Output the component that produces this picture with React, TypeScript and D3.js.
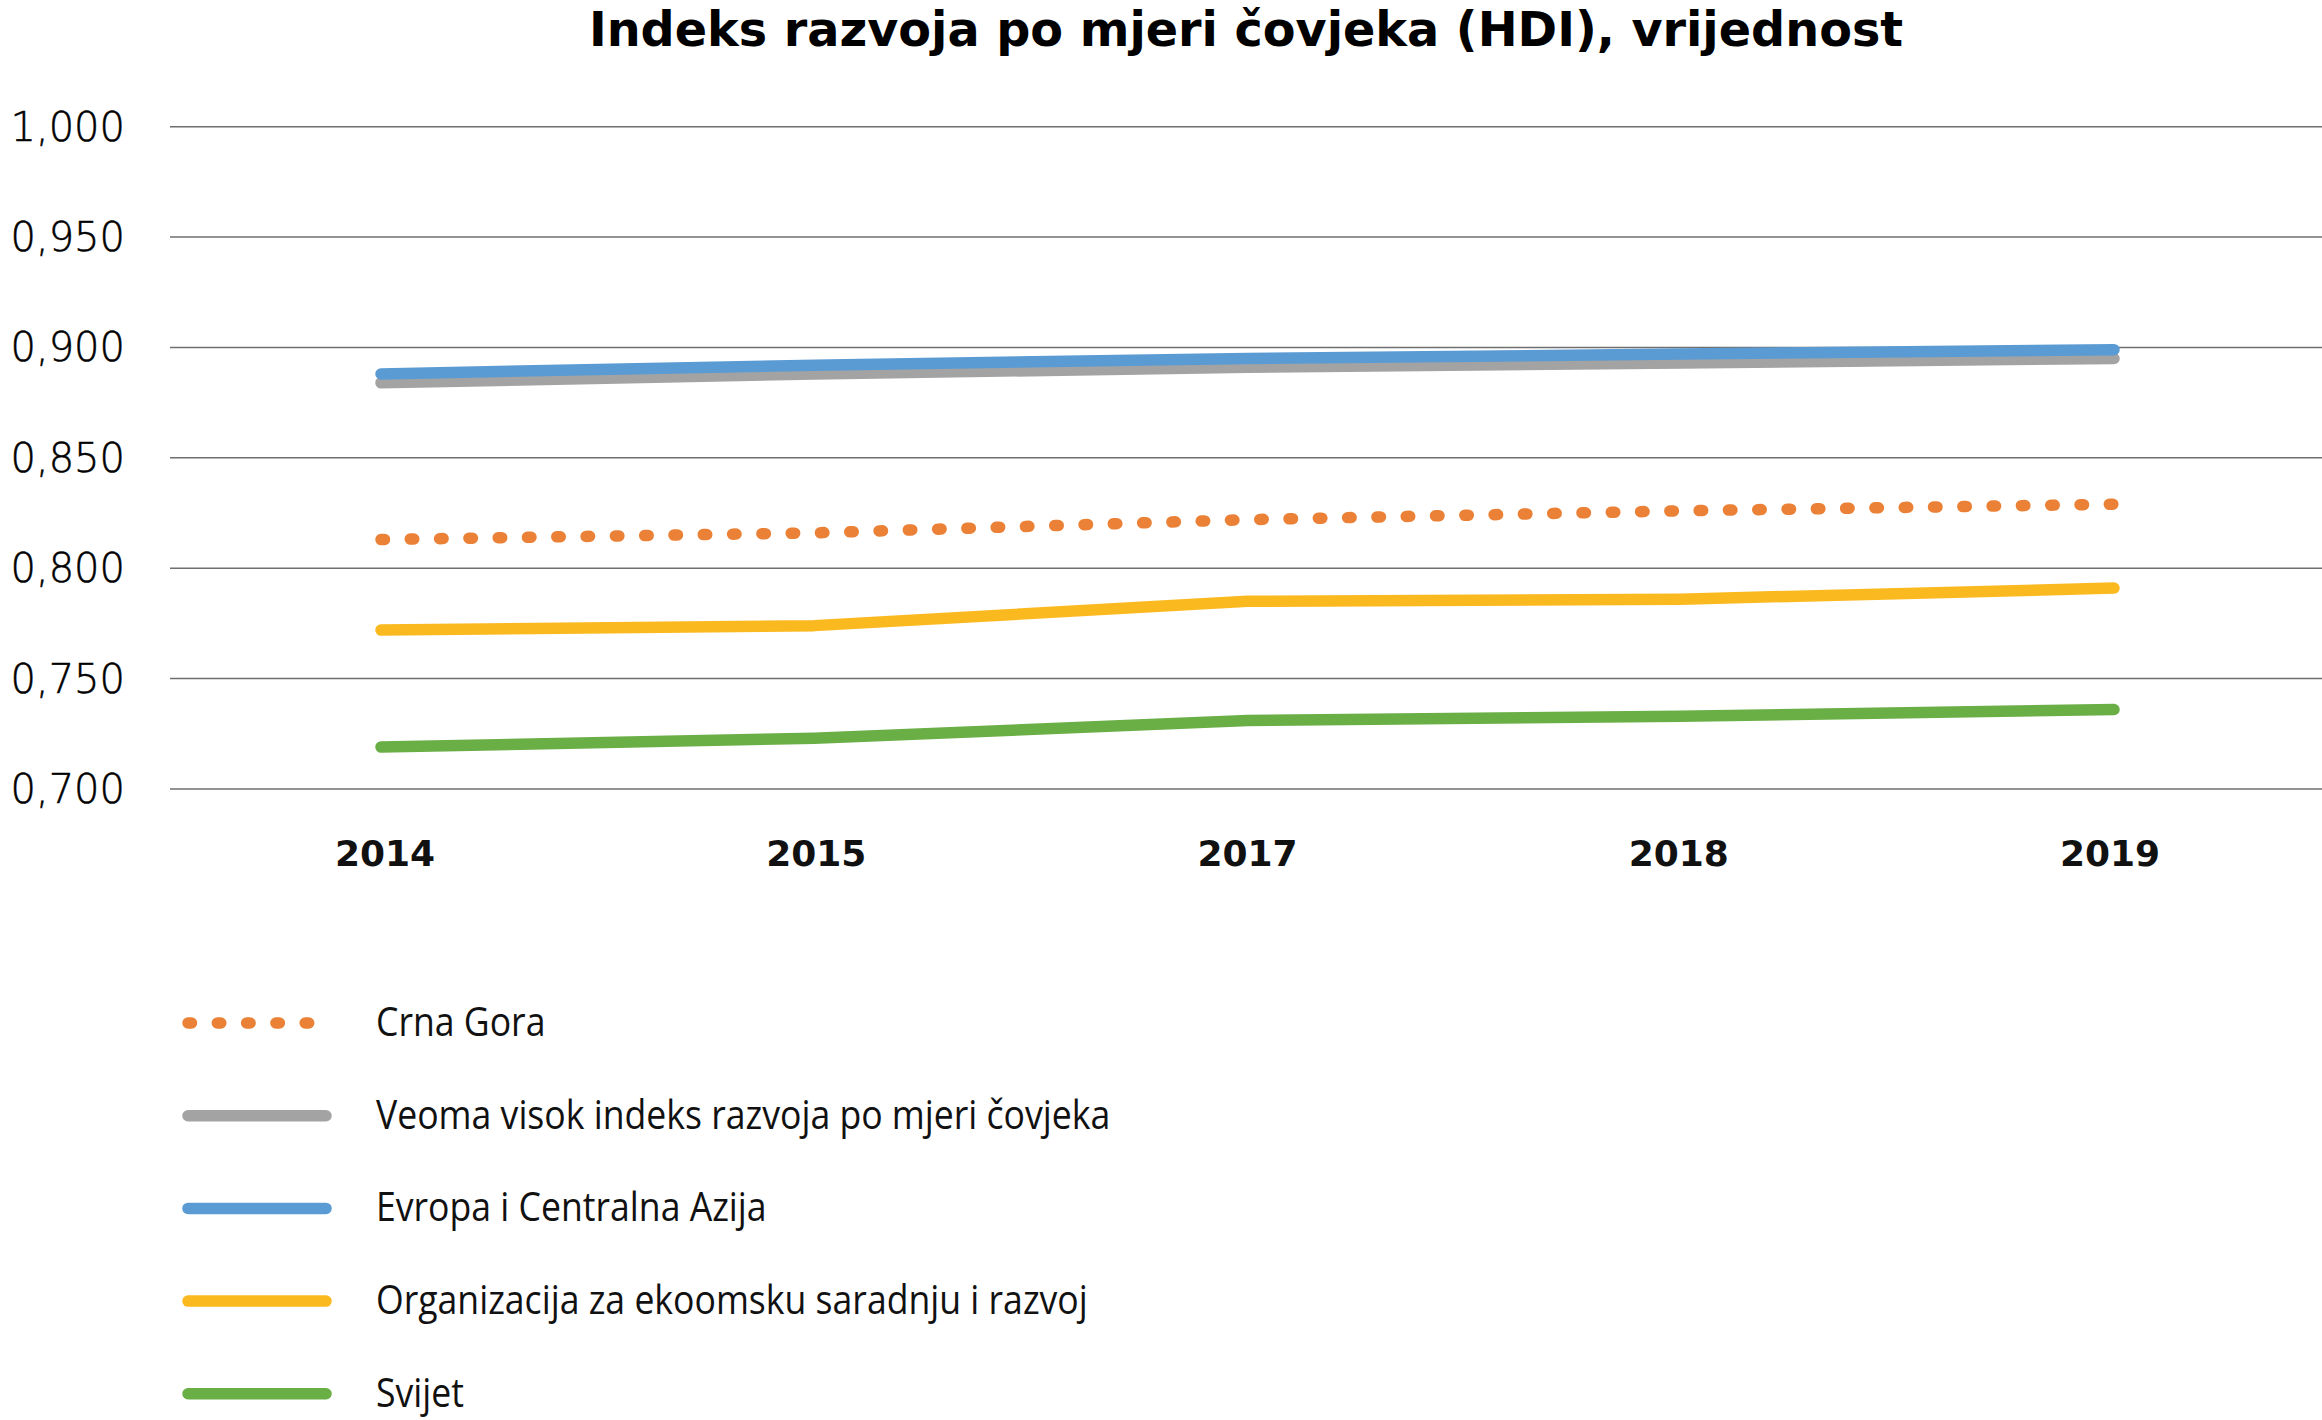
import React from "react";
import * as d3 from "d3";

const years = ["2014", "2015", "2017", "2018", "2019"];
const crnaGora = [0.813, 0.816, 0.822, 0.826, 0.829];
const veomaVisok = [0.884, 0.888, 0.891, 0.893, 0.895];
const evropa = [0.888, 0.892, 0.895, 0.897, 0.899];
const oecd = [0.772, 0.774, 0.785, 0.786, 0.791];
const svijet = [0.719, 0.723, 0.731, 0.733, 0.736];
const yTicks = [0.7, 0.75, 0.8, 0.85, 0.9, 0.95, 1.0];

const seriesNames = [
  "Crna Gora",
  "Veoma visok indeks razvoja po mjeri čovjeka",
  "Evropa i Centralna Azija",
  "Organizacija za ekoomsku saradnju i razvoj",
  "Svijet",
];
const seriesValues = [crnaGora, veomaVisok, evropa, oecd, svijet];
const seriesColors = ["#EA8136", "#A3A3A3", "#5B9BD3", "#FBB920", "#6AAE46"];
const seriesDotted = [true, false, false, false, false];

const title = "Indeks razvoja po mjeri čovjeka (HDI), vrijednost";

export default function App() {
  const W = 2322;
  const H = 1420;
  const x = d3.scalePoint<string>().domain(years).range([381, 2114]);
  const xLabel = d3.scalePoint<string>().domain(years).range([385, 2110]);
  const y = d3.scaleLinear().domain([0.7, 1.0]).range([789, 126.7]);
  const gridX0 = 170;
  const gridX1 = 2322;
  const line = d3
    .line<number>()
    .x((_, i) => x(years[i]) as number)
    .y((v) => y(v));

  const fmt = (v: number) => d3.format(".3f")(v).replace(".", ",");

  const legendX0 = 188;
  const legendX1 = 326;
  const legendTextX = 376;
  const legendBase0 = 1036;
  const legendStep = 92.7;
  const legendSqueeze = 0.89;

  return (
    <svg
      width={W}
      height={H}
      style={{ position: "absolute", left: 0, top: 0, display: "block", background: "#fff" }}
    >
      <rect x={0} y={0} width={W} height={H} fill="#fff" />
      <text
        x={(gridX0 + gridX1) / 2}
        y={46}
        textAnchor="middle"
        fontFamily="'DejaVu Sans', sans-serif"
        fontWeight={700}
        fontSize={47.7}
        fill="#000"
      >
        {title}
      </text>
      {yTicks.map((t) => (
        <g key={t}>
          <line
            x1={gridX0}
            x2={gridX1}
            y1={y(t)}
            y2={y(t)}
            stroke="#6f6f6f"
            strokeWidth={1.5}
          />
          <text
            x={125}
            y={y(t)}
            textAnchor="end"
            dominantBaseline="central"
            fontFamily="'DejaVu Sans', sans-serif"
            fontWeight={300}
            fontSize={40}
            fill="#000"
            stroke="#000"
            strokeWidth={0.5}
          >
            {fmt(t)}
          </text>
        </g>
      ))}
      {years.map((yr) => (
        <text
          key={yr}
          x={xLabel(yr)}
          y={853}
          textAnchor="middle"
          dominantBaseline="central"
          fontFamily="'DejaVu Sans', sans-serif"
          fontWeight={700}
          fontSize={36}
          fill="#111"
        >
          {yr}
        </text>
      ))}
      {seriesValues.map((vals, i) => (
        <path
          key={seriesNames[i]}
          d={line(vals) || ""}
          fill="none"
          stroke={seriesColors[i]}
          strokeWidth={11.5}
          strokeLinecap="round"
          strokeLinejoin="round"
          strokeDasharray={seriesDotted[i] ? "3.5 25.8" : undefined}
        />
      ))}
      {seriesNames.map((name, i) => {
        const base = legendBase0 + i * legendStep;
        const cy = base - 13;
        return (
          <g key={name}>
            <line
              x1={legendX0}
              x2={legendX1}
              y1={cy}
              y2={cy}
              stroke={seriesColors[i]}
              strokeWidth={11.5}
              strokeLinecap="round"
              strokeDasharray={seriesDotted[i] ? "3.5 25.8" : undefined}
            />
            <text
              transform={`translate(${legendTextX},${base}) scale(${legendSqueeze},1)`}
              x={0}
              y={0}
              fontFamily="'Open Sans', sans-serif"
              fontSize={40}
              fill="#111"
            >
              {name}
            </text>
          </g>
        );
      })}
    </svg>
  );
}
